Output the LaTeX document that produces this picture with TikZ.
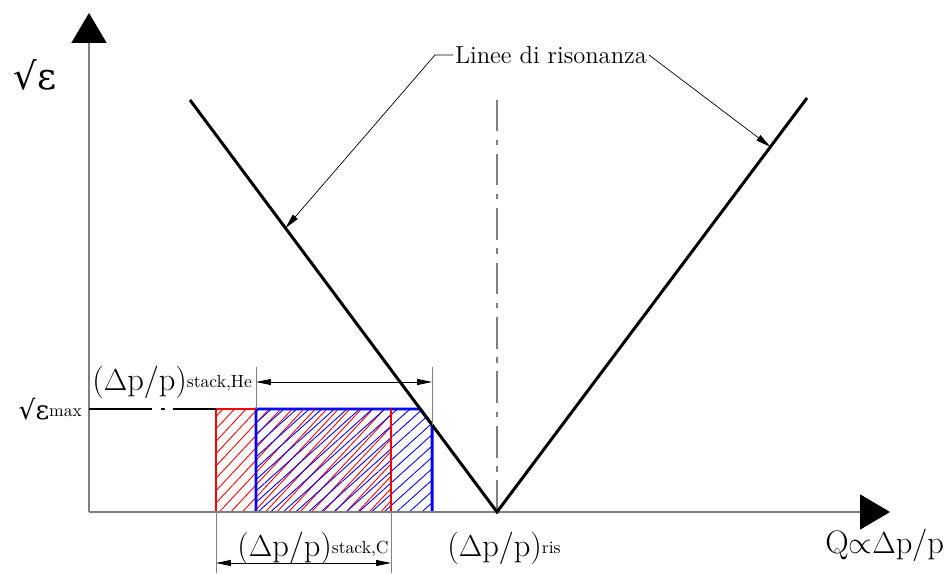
\documentclass[tikz,border=0pt]{standalone}
\usepackage{amsmath}
\usepackage{fontspec}
\newfontfamily\grkfont{DejaVu Serif}
\usetikzlibrary{arrows.meta,positioning,calc,patterns.meta}
\definecolor{axgray}{RGB}{128,128,128}
\newcommand{\dpp}{(\(\Delta\)p/p)}
\newcommand{\sqeps}{{\grkfont √ε}}
\newcommand{\lsub}[1]{\raisebox{1.5pt}{\fontsize{10}{12}\selectfont #1}}
\tikzset{
  axl/.style={axgray, line width=1.1pt, -{Triangle[length=0.6cm, width=0.7cm, color=black]}},
  resl/.style={black, line width=1.7pt},
  cenl/.style={axgray, line width=0.8pt, dash pattern=on 18pt off 5pt on 3pt off 5pt},
  emaxl/.style={black, line width=0.6pt, dash pattern=on 36pt off 5pt on 2pt off 5pt},
  redbox/.style={red, line width=1.7pt},
  bluebox/.style={blue, line width=1.7pt},
  redhatch/.style={pattern={Lines[angle=47, distance=4.8pt, line width=0.5pt]}, pattern color=red},
  bluehatch/.style={pattern={Lines[angle=42, distance=4.8pt, line width=0.5pt]}, pattern color=blue},
  extl/.style={axgray, line width=0.5pt},
  diml/.style={black, line width=0.5pt, {Triangle[length=0.3cm, width=0.12cm]}-{Triangle[length=0.3cm, width=0.12cm]}},
  ldr/.style={black, line width=0.4pt, -{Triangle[length=0.3cm, width=0.13cm]}},
  lbl/.style={font=\fontsize{18.5}{22}\selectfont, inner sep=1pt},
}
\begin{document}
\begin{tikzpicture}[x=0.02cm, y=-0.02cm]
\useasboundingbox (0,0) rectangle (947,574);
% axes and resonance lines
\coordinate (O) at (89,512);
\coordinate (ytop) at (89,13);
\coordinate (xend) at (890,512);
\coordinate (ltop) at (190,100);
\coordinate (vbot) at (497,512);
\coordinate (rtop) at (807,98);
\coordinate (ctop) at (497,100);
\coordinate (bk1) at ($(vbot)!0.25!(ltop)$);
\coordinate (bk2) at ($(vbot)!0.211!(ltop)$);
% hatched stacks
\fill[redhatch] (216,409) rectangle (391,512);
\fill[bluehatch] (256,512) -- (256,409) -- (bk1) -- (bk2) -- (bk2 |- O) -- cycle;
\draw[bluebox] (256,512) -- (256,409) -- (bk1) -- (bk2) -- (bk2 |- O);
\draw[redbox] (256,409) -- (216,409) -- (216,512) (391,409) -- (391,512);
\draw[axl] (O) -- (ytop);
\draw[axl] (O) -- (xend);
\draw[cenl] (vbot) -- (ctop);
\draw[resl] (ltop) -- (vbot) -- (rtop);
% emax level
\coordinate (emx) at (89,409);
\coordinate (rtl) at (216,409);
\draw[emaxl] (emx) -- (rtl);
% labels
\node[lbl, font=\fontsize{21}{26}\selectfont] (leps) at (35,75) {\sqeps};
\node[lbl, font=\fontsize{15}{19}\selectfont, anchor=east] (lemax) at (84,409) {\sqeps\lsub{max}};
\node[lbl, anchor=east] (lhe) at (254,382) {\dpp\lsub{stack,He}};
\node[lbl] (lc) at (313,548) {\dpp\lsub{stack,C}};
\node[lbl] (lris) at (504,548) {\dpp\lsub{ris}};
\node[lbl, anchor=east] (lq) at (946,545) {Q\({\propto}\Delta\)p/p};
\node[font=\fontsize{14}{17}\selectfont, inner sep=1pt] (llin) at (551,55) {Linee di risonanza};
% leaders
\coordinate (lhit) at ($(vbot)!0.689!(ltop)$);
\coordinate (rhit) at ($(vbot)!0.882!(rtop)$);
\draw[ldr] (llin.west) -- ++(-18,0) -- (lhit);
\draw[ldr] (llin.east) -- (rhit);
% dimensions
\draw[extl] (256,409) -- (256,367);
\draw[extl] (bk2) -- (bk2 |- 0,367);
\draw[diml] (256,382) -- (bk2 |- 0,382);
\draw[extl] (216,512) -- (216,573);
\draw[extl] (391,512) -- (391,573);
\draw[diml] (216,563) -- (391,563);
\end{tikzpicture}
\end{document}
